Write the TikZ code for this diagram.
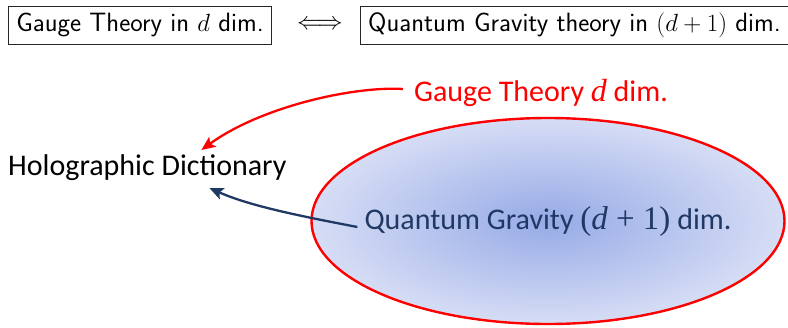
\documentclass[tikz,border=0pt]{standalone}
\usepackage{fontspec}
\setmainfont{Carlito}
\newfontfamily\cmathfont{Liberation Serif}
\usetikzlibrary{shapes.geometric,arrows.meta}
\definecolor{qgblue}{RGB}{32,56,100}
\definecolor{shin}{RGB}{150,170,230}
\definecolor{shout}{RGB}{214,221,245}
\newcommand{\mathd}{{\cmathfont\itshape d}}
\tikzset{
  topbox/.style={draw=black!85, line width=0.9pt, inner xsep=8pt, minimum height=38pt, font=\sffamily\fontsize{26.5}{30}\selectfont},
  bigtext/.style={font=\fontsize{30}{36}\selectfont},
  conn/.style={line width=2.3pt, -{Stealth[length=14pt,width=12pt,inset=3pt]}}
}
\begin{document}
\begin{tikzpicture}[x=1pt,y=-1pt]
\useasboundingbox (0,0) rectangle (788,327);
\node[topbox] (gbox) at (140,25) {Gauge Theory in $d$ dim.};
\node[topbox] (qbox) at (574.5,25) {Quantum Gravity theory in $(d+1)$ dim.};
\node[font=\fontsize{24}{28}\selectfont] (eq) at (320,25) {$\Longleftrightarrow$};
\node[ellipse, draw=red, line width=2.4pt, inner color=shin, outer color=shout, minimum width=473pt, minimum height=206pt, inner sep=0pt] (ell) at (548,221) {};
\node[bigtext, text=qgblue, inner sep=0pt] (qg) at (548,222) {Quantum Gravity {\cmathfont\fontsize{33}{36}\selectfont(\mathd\ + 1)} dim.};
\node[bigtext, text=red, inner sep=0pt] (gt) at (541,93) {Gauge Theory {\fontsize{32}{36}\selectfont\mathd}\ dim.};
\node[bigtext, text=black, inner sep=0pt, anchor=west] (hd) at (8,168) {Holographic Dictionary};
\coordinate (rt) at ([xshift=54pt,yshift=18pt]hd.center);
\coordinate (bt) at ([xshift=62pt,yshift=-20pt]hd.center);
\coordinate (rs) at ([xshift=-11pt,yshift=4pt]gt.west);
\coordinate (bs) at ([xshift=-7pt,yshift=-5pt]qg.west);
\draw[conn, red] (rs) .. controls (355,86) and (262,106) .. (rt);
\draw[conn, qgblue] (bs) .. controls (300,216) and (250,206) .. (bt);
\end{tikzpicture}
\end{document}
